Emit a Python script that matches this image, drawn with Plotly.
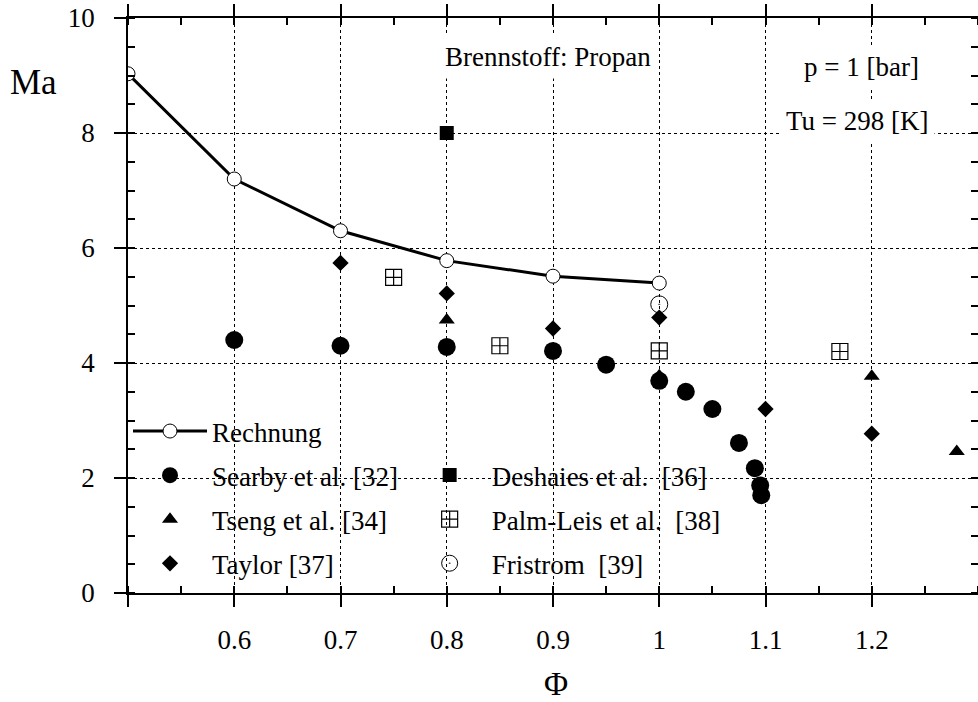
import plotly.graph_objects as go

# ---------------- data ----------------
phi_calc = [0.5, 0.6, 0.7, 0.8, 0.9, 1.0]
ma_calc = [9.03, 7.20, 6.30, 5.78, 5.51, 5.39]

phi_searby = [0.6, 0.7, 0.8, 0.9, 0.95, 1.0, 1.025, 1.05, 1.075, 1.09, 1.095, 1.096]
ma_searby = [4.40, 4.30, 4.28, 4.21, 3.97, 3.69, 3.50, 3.20, 2.61, 2.17, 1.87, 1.70]

phi_tseng = [0.8, 1.0, 1.2, 1.28]
ma_tseng = [4.75, 3.78, 3.77, 2.46]

phi_taylor = [0.7, 0.8, 0.9, 1.0, 1.1, 1.2]
ma_taylor = [5.74, 5.21, 4.60, 4.79, 3.20, 2.77]

phi_deshaies = [0.8]
ma_deshaies = [8.0]

phi_palm = [0.75, 0.85, 1.0, 1.17]
ma_palm = [5.49, 4.30, 4.21, 4.20]

phi_fristrom = [1.0]
ma_fristrom = [5.02]

x_tickvals = [0.5, 0.6, 0.7, 0.8, 0.9, 1.0, 1.1, 1.2]
x_ticktext = ["", "0.6", "0.7", "0.8", "0.9", "1", "1.1", "1.2"]
y_tickvals = [0, 2, 4, 6, 8, 10]
y_ticktext = ["0", "2", "4", "6", "8", "10"]

FONT = "Liberation Serif, Times New Roman, serif"
NB = "\u00a0"

fig = go.Figure()

fig.add_trace(go.Scatter(
    x=phi_calc, y=ma_calc, name="Rechnung", mode="lines+markers",
    line=dict(color="black", width=3),
    marker=dict(symbol="circle", size=14, color="white", line=dict(color="black", width=1)),
    legend="legend", legendgroup="a", legendrank=1))

fig.add_trace(go.Scatter(
    x=phi_tseng, y=ma_tseng, name="Tseng et al. [34]", mode="markers",
    marker=dict(symbol="triangle-up", size=14, color="black"),
    legend="legend", legendgroup="c", legendrank=3))

fig.add_trace(go.Scatter(
    x=phi_searby, y=ma_searby, name="Searby et al. [32]", mode="markers",
    marker=dict(symbol="circle", size=18, color="black"),
    legend="legend", legendgroup="b", legendrank=2))

fig.add_trace(go.Scatter(
    x=phi_taylor, y=ma_taylor, name="Taylor [37]", mode="markers",
    marker=dict(symbol="diamond", size=12.5, color="black"),
    legend="legend", legendgroup="d", legendrank=4))

fig.add_trace(go.Scatter(
    x=phi_deshaies, y=ma_deshaies, name="Deshaies et al." + NB + " [36]", mode="markers",
    marker=dict(symbol="square", size=14, color="black"),
    legend="legend2", legendgroup="e", legendrank=1))

fig.add_trace(go.Scatter(
    x=phi_palm, y=ma_palm, name="Palm-Leis et al." + NB + " [38]", mode="markers",
    marker=dict(symbol="square-cross-open", size=16, color="black", line=dict(width=1.2)),
    legend="legend2", legendgroup="f", legendrank=2))

fig.add_trace(go.Scatter(
    x=phi_fristrom, y=ma_fristrom, name="Fristrom" + NB + " [39]", mode="markers",
    marker=dict(symbol="circle-open-dot", size=17, color="black", line=dict(width=1)),
    legend="legend2", legendgroup="g", legendrank=3))

legend_common = dict(
    bgcolor="rgba(0,0,0,0)", borderwidth=0,
    font=dict(family=FONT, size=27, color="black"),
    traceorder="grouped", tracegroupgap=6, itemwidth=74,
    xanchor="left", yanchor="top", orientation="v",
)

fig.update_layout(
    width=978, height=702,
    margin=dict(l=128, r=0, t=18, b=109, autoexpand=False),
    paper_bgcolor="white", plot_bgcolor="white",
    font=dict(family=FONT, size=27, color="black"),
    showlegend=True,
    legend=dict(x=0.0, y=0.3235, **legend_common),
    legend2=dict(x=0.329, y=0.247, **legend_common),
)

fig.update_xaxes(
    range=[0.5, 1.3], tickmode="array", tickvals=x_tickvals, ticktext=x_ticktext,
    showline=True, linecolor="black", linewidth=1.5, mirror="ticks",
    ticks="outside", ticklen=12, tickwidth=1.5, tickcolor="black",
    ticklabelstandoff=10, automargin=False,
    tickfont=dict(family=FONT, size=27, color="black"),
    showgrid=True, gridcolor="black", gridwidth=1, griddash="dot",
    zeroline=False,
    minor=dict(dtick=0.05, tick0=0.5, ticks="inside", ticklen=7, tickwidth=1.5,
               tickcolor="black", showgrid=False),
)
fig.update_yaxes(
    range=[0, 10], tickmode="array", tickvals=y_tickvals, ticktext=y_ticktext,
    showline=True, linecolor="black", linewidth=1.5, mirror="ticks",
    ticks="outside", ticklen=12, tickwidth=1.5, tickcolor="black",
    ticklabelstandoff=14, automargin=False,
    tickfont=dict(family=FONT, size=27, color="black"),
    showgrid=True, gridcolor="black", gridwidth=1, griddash="dot",
    zeroline=False,
    minor=dict(dtick=0.5, tick0=0, ticks="inside", ticklen=7, tickwidth=1.5,
               tickcolor="black", showgrid=False),
)

# axis titles (horizontal "Ma", "Φ" below)
fig.add_annotation(text="Ma", xref="paper", yref="paper", x=-0.1106, y=0.887,
                   xanchor="center", yanchor="middle", showarrow=False,
                   font=dict(family=FONT, size=35, color="black"))
fig.add_annotation(text="Φ", xref="paper", yref="paper", x=0.5035, y=-0.1583,
                   xanchor="center", yanchor="middle", showarrow=False,
                   font=dict(family=FONT, size=33, color="black"))

# in-plot labels
fig.add_annotation(text="Brennstoff: Propan", x=0.895, y=9.33, xref="x", yref="y",
                   showarrow=False, bgcolor="white", borderpad=6,
                   font=dict(family=FONT, size=27, color="black"))
fig.add_annotation(text="p = 1 [bar]", x=1.19, y=9.15, xref="x", yref="y",
                   showarrow=False, bgcolor="white", borderpad=6,
                   font=dict(family=FONT, size=27, color="black"))
fig.add_annotation(text="Tu = 298 [K]", x=1.187, y=8.21, xref="x", yref="y",
                   showarrow=False, bgcolor="white", borderpad=5,
                   font=dict(family=FONT, size=27, color="black"))

fig.write_html(
    "out.html",
    config={"displayModeBar": False},
    post_script="document.body.style.margin='0px';document.documentElement.style.overflow='hidden';",
)
